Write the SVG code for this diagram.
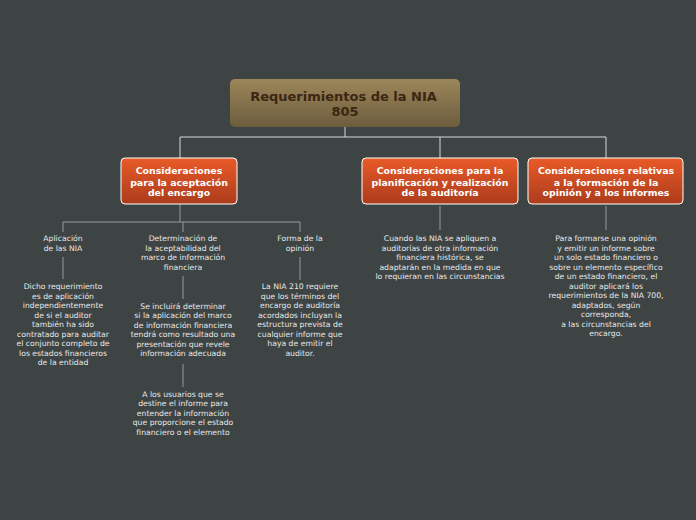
<svg xmlns="http://www.w3.org/2000/svg" width="696" height="520" viewBox="0 0 696 520">
<defs>
<linearGradient id="gRoot" x1="0" y1="0" x2="0" y2="1"><stop offset="0" stop-color="#9c865a"/><stop offset="1" stop-color="#6c5d3e"/></linearGradient>
<linearGradient id="gChild" x1="0" y1="0" x2="0" y2="1"><stop offset="0" stop-color="#e95a28"/><stop offset="1" stop-color="#ac3c1c"/></linearGradient>
</defs>
<style>
.root{font-family:"DejaVu Sans",Verdana,sans-serif;font-size:13px;font-weight:bold;fill:#3b2612;text-anchor:middle}
.child{font-family:"DejaVu Sans",Verdana,sans-serif;font-size:9.4px;font-weight:bold;fill:#ffffff;text-anchor:middle}
.leaf{font-family:"DejaVu Sans",Verdana,sans-serif;font-size:7.7px;fill:#e8e8e8;text-anchor:middle}
.con{stroke:#d8d8d8;stroke-width:1;fill:none}
.con2{stroke:#9a9a9a;stroke-width:1;fill:none}
</style>
<rect width="696" height="520" fill="#3e4444"/>
<g id="connectors">
<path class="con" d="M345,127V137M180,137H606M180,137V158M440,137V158M606,137V158"/>
<path class="con2" d="M180,204V222M63,222H300M63,222V232M183,222V232M300,222V232"/>
<path class="con2" d="M63,257V279M183,276V299M183,364V387M300,257V280M440,206V230M606,206V230"/>
</g>
<g id="root">
<rect x="230" y="79" width="230" height="48" rx="5" fill="url(#gRoot)"/>
<text class="root" x="343.5" y="101">Requerimientos de la NIA</text>
<text class="root" x="345" y="116">805</text>
</g>
<g id="c1">
<rect x="121" y="158" width="116" height="46" rx="4" fill="url(#gChild)" stroke="#ffffff" stroke-width="1"/>
<text class="child"><tspan x="179" y="174">Consideraciones</tspan><tspan x="179" y="185.5">para la aceptación</tspan><tspan x="179" y="196">del encargo</tspan></text>
</g>
<g id="c2">
<rect x="362" y="158" width="156" height="46" rx="4" fill="url(#gChild)" stroke="#ffffff" stroke-width="1"/>
<text class="child"><tspan x="440" y="174">Consideraciones para la</tspan><tspan x="440" y="185.5">planificación y realización</tspan><tspan x="440" y="196">de la auditoría</tspan></text>
</g>
<g id="c3">
<rect x="528" y="158" width="155" height="46" rx="4" fill="url(#gChild)" stroke="#ffffff" stroke-width="1"/>
<text class="child"><tspan x="606" y="174">Consideraciones relativas</tspan><tspan x="606" y="185.5">a la formación de la</tspan><tspan x="606" y="196">opinión y a los informes</tspan></text>
</g>
<g id="l1">
<text class="leaf"><tspan x="63" y="241">Aplicación</tspan><tspan x="63" y="250.5">de las NIA</tspan></text>
</g>
<g id="l1a">
<text class="leaf"><tspan x="63" y="289">Dicho requerimiento</tspan><tspan x="63" y="298.5">es de aplicación</tspan><tspan x="63" y="308">independientemente</tspan><tspan x="63" y="317.5">de si el auditor</tspan><tspan x="63" y="327">también ha sido</tspan><tspan x="63" y="336.5">contratado para auditar</tspan><tspan x="63" y="346">el conjunto completo de</tspan><tspan x="63" y="355.5">los estados financieros</tspan><tspan x="63" y="365">de la entidad</tspan></text>
</g>
<g id="l2">
<text class="leaf"><tspan x="183" y="241">Determinación de</tspan><tspan x="183" y="250.5">la aceptabilidad del</tspan><tspan x="183" y="260">marco de información</tspan><tspan x="183" y="269.5">financiera</tspan></text>
</g>
<g id="l2a">
<text class="leaf"><tspan x="183" y="308.5">Se incluirá determinar</tspan><tspan x="183" y="318">si la aplicación del marco</tspan><tspan x="183" y="327.5">de información financiera</tspan><tspan x="183" y="337">tendrá como resultado una</tspan><tspan x="183" y="346.5">presentación que revele</tspan><tspan x="183" y="356">información adecuada</tspan></text>
</g>
<g id="l2b">
<text class="leaf"><tspan x="183" y="396.5">A los usuarios que se</tspan><tspan x="183" y="406">destine el informe para</tspan><tspan x="183" y="415.5">entender la información</tspan><tspan x="183" y="425">que proporcione el estado</tspan><tspan x="183" y="434.5">financiero o el elemento</tspan></text>
</g>
<g id="l3">
<text class="leaf"><tspan x="300" y="241">Forma de la</tspan><tspan x="300" y="250.5">opinión</tspan></text>
</g>
<g id="l3a">
<text class="leaf"><tspan x="300" y="289">La NIA 210 requiere</tspan><tspan x="300" y="298.5">que los términos del</tspan><tspan x="300" y="308">encargo de auditoría</tspan><tspan x="300" y="317.5">acordados incluyan la</tspan><tspan x="300" y="327">estructura prevista de</tspan><tspan x="300" y="336.5">cualquier informe que</tspan><tspan x="300" y="346">haya de emitir el</tspan><tspan x="300" y="355.5">auditor.</tspan></text>
</g>
<g id="l4">
<text class="leaf"><tspan x="440" y="241">Cuando las NIA se apliquen a</tspan><tspan x="440" y="250.5">auditorías de otra información</tspan><tspan x="440" y="260">financiera histórica, se</tspan><tspan x="440" y="269.5">adaptarán en la medida en que</tspan><tspan x="440" y="279">lo requieran en las circunstancias</tspan></text>
</g>
<g id="l5">
<text class="leaf"><tspan x="606" y="241">Para formarse una opinión</tspan><tspan x="606" y="250.5">y emitir un informe sobre</tspan><tspan x="606" y="260">un solo estado financiero o</tspan><tspan x="606" y="269.5">sobre un elemento específico</tspan><tspan x="606" y="279">de un estado financiero, el</tspan><tspan x="606" y="288.5">auditor aplicará los</tspan><tspan x="606" y="298">requerimientos de la NIA 700,</tspan><tspan x="606" y="307.5">adaptados, según</tspan><tspan x="606" y="317">corresponda,</tspan><tspan x="606" y="326.5">a las circunstancias del</tspan><tspan x="606" y="336">encargo.</tspan></text>
</g>
</svg>
